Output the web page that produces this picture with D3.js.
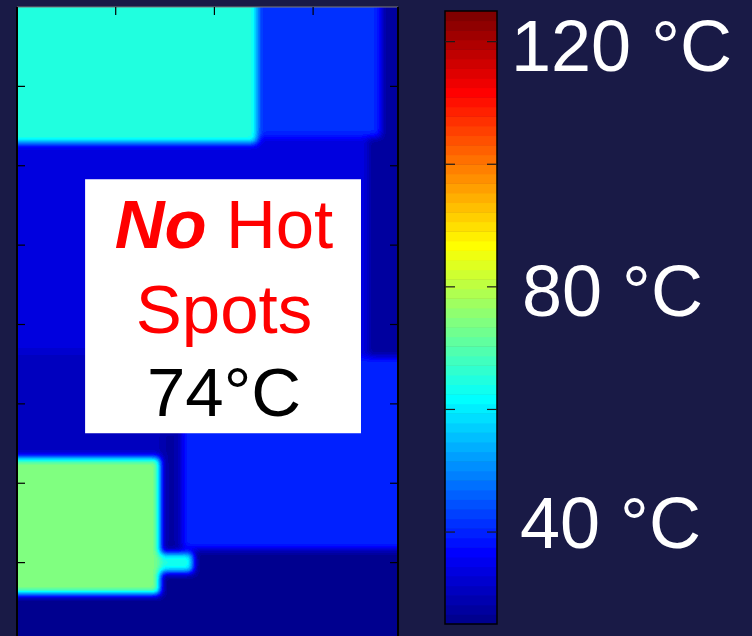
<!DOCTYPE html>
<html>
<head>
<meta charset="utf-8">
<script src="https://cdn.jsdelivr.net/npm/d3@7"></script>
<style>
  html, body { margin: 0; padding: 0; background: #191a46; overflow: hidden; }
  svg { display: block; }
</style>
</head>
<body>
<script>
// Board thermal map: rectangular zones in mm, each with its steady-state temperature (°C).
// Later zones are laid over earlier ones.
const zoneNames = ["substrate", "edge top", "edge mid", "lower left", "channel",
                   "die A", "die B", "die C", "base", "die D", "connector"];
const zoneX0   = [0,    36.9, 35.6, 0,    14.5, 0,    24.3, 16.7, 0,    0,    14.5];
const zoneX1   = [38.6, 38.6, 38.6, 16.7, 16.7, 24.3, 36.9, 38.6, 38.6, 14.5, 17.8];
const zoneY0   = [0,    0,    16.4, 43.2, 53.3, 0,    0,    44.1, 68.3, 56.8, 68.8];
const zoneY1   = [80,   17,   44.1, 57.7, 68.6, 17.1, 16.4, 68.3, 80,   73.9, 71.2];
const zoneTemp = [33.5, 27,   27,   31,   28,   65,   41,   40,   26,   74,   64];

// Axis ticks (mm) and colour bar ticks / labels (°C)
const xTicks = [10, 20, 30];
const yTicks = [10, 20, 30, 40, 50, 60, 70];
const cbTicks = [40, 60, 80, 100, 120];
const cbLabelValues = [120, 80, 40];
const cbLabels = ["120 °C", "80 °C", "40 °C"];
const tempRange = [25, 125];
const peakLabel = "74°C";

const W = 752, H = 636;
const font = "'Liberation Sans', Arial, sans-serif";

// 64-step jet colormap
const jet = t => {
  const c = v => Math.max(0, Math.min(1, v));
  return d3.rgb(255 * c(1.5 - Math.abs(4 * t - 3)),
                255 * c(1.5 - Math.abs(4 * t - 2)),
                255 * c(1.5 - Math.abs(4 * t - 1)));
};
const jet64 = d3.range(1, 65).map(k => jet(k / 64));
const color = d3.scaleQuantize().domain(tempRange).range(jet64);

const xScale = d3.scaleLinear().domain([0, 38.6]).range([17, 398]);
const yScale = d3.scaleLinear().domain([0, 80]).range([7, 642]);
const cScale = d3.scaleLinear().domain(tempRange).range([624, 11]);

const svg = d3.select("body").append("svg")
  .attr("width", W).attr("height", H)
  .style("background", "#191a46");

// ---- temperature field: rasterise zones, diffuse, colour ----
const px0 = Math.round(xScale(0)), px1 = Math.round(xScale(38.6));
const py0 = Math.round(yScale(0)), py1 = Math.round(yScale(80));
const gw = px1 - px0, gh = py1 - py0;
let field = new Float32Array(gw * gh);
for (let j = 0; j < gh; j++) {
  const yd = yScale.invert(py0 + j + 0.5);
  for (let i = 0; i < gw; i++) {
    const xd = xScale.invert(px0 + i + 0.5);
    let t = zoneTemp[0];
    for (let z = 0; z < zoneTemp.length; z++) {
      if (xd >= zoneX0[z] && xd < zoneX1[z] && yd >= zoneY0[z] && yd < zoneY1[z]) t = zoneTemp[z];
    }
    field[j * gw + i] = t;
  }
}
// heat spreading: repeated box blur with clamped borders
function boxPass(src, horizontal, r) {
  const out = new Float32Array(src.length);
  const n = horizontal ? gw : gh, m = horizontal ? gh : gw;
  for (let a = 0; a < m; a++) {
    const idx = b => horizontal ? a * gw + b : b * gw + a;
    for (let b = 0; b < n; b++) {
      let s = 0;
      for (let k = -r; k <= r; k++) s += src[idx(Math.max(0, Math.min(n - 1, b + k)))];
      out[idx(b)] = s / (2 * r + 1);
    }
  }
  return out;
}
for (let p = 0; p < 3; p++) {
  field = boxPass(field, true, 3);
  field = boxPass(field, false, 3);
}
const canvas = document.createElement("canvas");
canvas.width = gw; canvas.height = gh;
const ctx = canvas.getContext("2d");
const img = ctx.createImageData(gw, gh);
for (let q = 0; q < gw * gh; q++) {
  const c = color(field[q]);
  img.data[4 * q] = c.r; img.data[4 * q + 1] = c.g; img.data[4 * q + 2] = c.b; img.data[4 * q + 3] = 255;
}
ctx.putImageData(img, 0, 0);
svg.append("image")
  .attr("x", px0).attr("y", py0).attr("width", gw).attr("height", gh)
  .attr("preserveAspectRatio", "none")
  .attr("href", canvas.toDataURL());

// ---- plot frame and inward ticks ----
const frame = svg.append("g");
frame.append("line").attr("x1", px0).attr("x2", px1).attr("y1", py0).attr("y2", py0)
  .attr("stroke", "#7a7a7a").attr("stroke-width", 1.2);
frame.append("line").attr("x1", px0).attr("x2", px0).attr("y1", py0).attr("y2", py1)
  .attr("stroke", "#000").attr("stroke-width", 2);
frame.append("line").attr("x1", px1).attr("x2", px1).attr("y1", py0).attr("y2", py1)
  .attr("stroke", "#000").attr("stroke-width", 2);
frame.selectAll(".xt").data(xTicks).join("line")
  .attr("x1", d => xScale(d)).attr("x2", d => xScale(d))
  .attr("y1", py0).attr("y2", py0 + 8).attr("stroke", "#000").attr("stroke-width", 1.2);
frame.selectAll(".yl").data(yTicks).join("line")
  .attr("x1", px0).attr("x2", px0 + 8)
  .attr("y1", d => yScale(d)).attr("y2", d => yScale(d)).attr("stroke", "#000").attr("stroke-width", 1.2);
frame.selectAll(".yr").data(yTicks).join("line")
  .attr("x1", px1 - 8).attr("x2", px1)
  .attr("y1", d => yScale(d)).attr("y2", d => yScale(d)).attr("stroke", "#000").attr("stroke-width", 1.2);

// ---- annotation box ----
const box = { x0: 6.9, x1: 34.85, y0: 21.7, y1: 53.7 };
svg.append("rect")
  .attr("x", xScale(box.x0)).attr("y", yScale(box.y0))
  .attr("width", xScale(box.x1) - xScale(box.x0))
  .attr("height", yScale(box.y1) - yScale(box.y0))
  .attr("fill", "#fff");
const cx = (xScale(box.x0) + xScale(box.x1)) / 2 + 1;
const t1 = svg.append("text").attr("x", cx).attr("y", 248)
  .attr("text-anchor", "middle").attr("font-family", font).attr("font-size", 69).attr("fill", "#ff0000");
t1.append("tspan").attr("font-weight", "bold").attr("font-style", "italic").text("No");
t1.append("tspan").text(" Hot");
svg.append("text").attr("x", cx).attr("y", 333)
  .attr("text-anchor", "middle").attr("font-family", font).attr("font-size", 69).attr("fill", "#ff0000")
  .text("Spots");
svg.append("text").attr("x", cx).attr("y", 416)
  .attr("text-anchor", "middle").attr("font-family", font).attr("font-size", 69).attr("fill", "#000")
  .text(peakLabel);

// ---- colour bar ----
const cbX = 445, cbW = 52;
const step = (tempRange[1] - tempRange[0]) / 64;
svg.append("g").selectAll("rect").data(jet64).join("rect")
  .attr("x", cbX).attr("width", cbW)
  .attr("y", (d, i) => cScale(tempRange[0] + (i + 1) * step))
  .attr("height", (d, i) => cScale(tempRange[0] + i * step) - cScale(tempRange[0] + (i + 1) * step) + 0.5)
  .attr("fill", d => d);
svg.append("rect").attr("x", cbX).attr("y", cScale(tempRange[1]))
  .attr("width", cbW).attr("height", cScale(tempRange[0]) - cScale(tempRange[1]))
  .attr("fill", "none").attr("stroke", "#000").attr("stroke-width", 1.5);
svg.append("g").selectAll("line").data(cbTicks.flatMap(v => [[v, cbX, cbX + 10], [v, cbX + cbW - 10, cbX + cbW]]))
  .join("line")
  .attr("x1", d => d[1]).attr("x2", d => d[2])
  .attr("y1", d => cScale(d[0])).attr("y2", d => cScale(d[0]))
  .attr("stroke", "#1a1a1a").attr("stroke-width", 1.2);

// colour bar labels
const labelNudge = { 120: [511, 29], 80: [522, 29], 40: [520, 16] };
svg.append("g").selectAll("text").data(cbLabelValues).join("text")
  .attr("x", d => labelNudge[d][0])
  .attr("y", d => cScale(d) + labelNudge[d][1])
  .attr("font-family", font).attr("font-size", 72).attr("fill", "#fff")
  .text((d, i) => cbLabels[i]);
</script>
</body>
</html>
